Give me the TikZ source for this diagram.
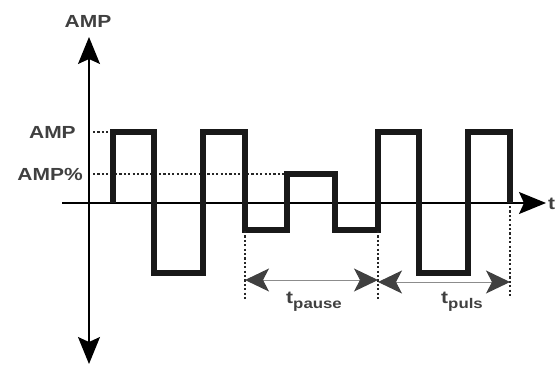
\documentclass[tikz,border=0pt]{standalone}
\usepackage{fontspec}
\setmainfont{Liberation Sans}
\usetikzlibrary{arrows.meta}

\tikzset{
  lbl/.style={text=black!75,font=\bfseries\fontsize{17.5}{17.5}\selectfont,
    inner sep=0pt,xscale=1.2,transform shape},
  axis/.style={line width=1.5pt},
  bigtip/.style={-{Stealth[length=27pt,width=22pt,inset=5pt]}},
  wave/.style={line width=6pt,black!90,line join=miter},
  guide/.style={line width=2.2pt,dash pattern=on 2.2pt off 2.2pt,black!85},
  span/.style={line width=1pt,black!45,
    {Stealth[length=24pt,width=23pt,inset=6pt,black!75]}-{Stealth[length=24pt,width=23pt,inset=6pt,black!75]}}
}
\newcommand{\sub}[1]{\raisebox{-5pt}{\fontsize{14}{14}\selectfont #1}}

\begin{document}
\begin{tikzpicture}[x=1pt,y=-1pt]
  \useasboundingbox (0,0) rectangle (559,367);
  % axes
  \coordinate (ytop) at (89,37);
  \coordinate (ybot) at (89,364);
  \coordinate (xleft) at (62,203);
  \coordinate (xright) at (546,203);
  \draw[axis,{Stealth[length=27pt,width=22pt,inset=5pt]}-{Stealth[length=27pt,width=22pt,inset=5pt]}] (ybot) -- (ytop);
  \draw[axis,bigtip] (xleft) -- (xright);
  \node[lbl] (ampy) at (88,21) {AMP};
  \node[lbl,anchor=west] (tx) at (548,204) {t};
  % level marks
  \node[lbl,anchor=east] (amp) at (76,132) {AMP};
  \node[lbl,anchor=east] (amppct) at (83,174) {AMP\%};
  \coordinate (amp0) at (93,132);
  \coordinate (amp1) at (113,132);
  \coordinate (pct0) at (93,174);
  \coordinate (pct1) at (287,174);
  \draw[guide] (amp0) -- (amp1);
  \draw[guide] (pct0) -- (pct1);
  % signal
  \draw[wave] (113,203) -- (113,132) -- (154,132) -- (154,273) -- (203,273)
    -- (203,132) -- (245,132) -- (245,230) -- (287,230) -- (287,174)
    -- (335,174) -- (335,230) -- (378,230) -- (378,132) -- (419,132)
    -- (419,273) -- (468,273) -- (468,132) -- (510,132) -- (510,203);
  % time spans
  \coordinate (p0) at (245,231);
  \coordinate (p1) at (245,300);
  \coordinate (q0) at (378,231);
  \coordinate (q1) at (378,300);
  \coordinate (r0) at (510,206);
  \coordinate (r1) at (510,298);
  \draw[guide] (p0) -- (p1);
  \draw[guide] (q0) -- (q1);
  \draw[guide] (r0) -- (r1);
  \coordinate (pa) at (245,280);
  \coordinate (pb) at (378,280);
  \coordinate (ua) at (378,282);
  \coordinate (ub) at (510,282);
  \draw[span] (pa) -- (pb);
  \draw[span] (ua) -- (ub);
  \node[lbl,anchor=base west] (tpause) at (286,303) {t\sub{pause}};
  \node[lbl,anchor=base west] (tpuls) at (441,303) {t\sub{puls}};
\end{tikzpicture}
\end{document}
